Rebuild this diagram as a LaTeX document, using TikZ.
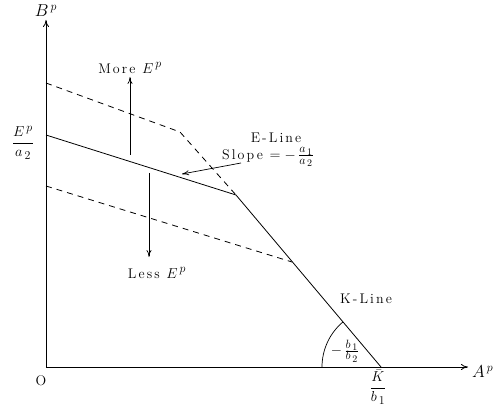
\documentclass[tikz,border=0pt]{standalone}
\usepackage{fontspec}
\setmainfont{Latin Modern Roman}
\newfontfamily\spaced{Latin Modern Roman}[LetterSpace=15]
\DeclareMathSizes{14}{15}{12}{10}
\DeclareMathSizes{18}{18}{13}{10}
\usetikzlibrary{arrows.meta}
\tikzset{
  lbl/.style={inner sep=0pt, font=\fontsize{14}{16}\selectfont\spaced},
  axlbl/.style={inner sep=0pt, font=\fontsize{18}{21}\selectfont},
  fraclbl/.style={inner sep=0pt, font=\fontsize{14}{16}\selectfont},
  axis/.style={line width=0.8pt, -{To[length=7pt,width=6pt]}},
  thin arrow/.style={line width=0.7pt, -{To[length=7pt,width=5pt]}},
  eline/.style={line width=0.8pt},
  dline/.style={line width=0.8pt, dash pattern=on 6pt off 5pt},
}
\begin{document}
\begin{tikzpicture}[x=1pt,y=-1pt]
\useasboundingbox (0,0) rectangle (495,414);
% key points
\coordinate (O) at (46,367);
\coordinate (Ytop) at (46,20);
\coordinate (Xend) at (468,367);
\coordinate (E0) at (46,135);
\coordinate (kink) at (236,195);
\coordinate (K0) at (381,367);
\coordinate (U0) at (46,83);
\coordinate (U1) at (180,132);
\coordinate (L0) at (46,186);
\coordinate (L1) at (292,262);
% axes
\draw[axis] (O) -- (Ytop);
\draw[axis] (O) -- (Xend);
% lines
\draw[eline] (E0) -- (kink) -- (K0);
\draw[dline] (U0) -- (U1) -- (kink);
\draw[dline] (L0) -- (L1);
% arc
\draw[line width=0.7pt] (322,367) arc[start angle=180, end angle=229.9, radius=59];
% arrows
\coordinate (mA) at (130,155);
\coordinate (mB) at (130,77);
\coordinate (lA) at (149,173);
\coordinate (lB) at (149,257);
\coordinate (sA) at (241,163);
\coordinate (sB) at (182,174);
\draw[thin arrow] (mA) -- (mB);
\draw[thin arrow] (lA) -- (lB);
\draw[thin arrow] (sA) -- (sB);
% labels
\node[axlbl] (By) at (46,11) {$B^{\,p}$};
\node[axlbl, anchor=west] (Ax) at (472,372) {$A^{\,p}$};
\node[lbl] (Olbl) at (41,381) {O};
\node[fraclbl] (Ea) at (23,143) {$\displaystyle\frac{E^{\,p}}{a_{\,2}}$};
\node[fraclbl] (Kb) at (378,387) {$\displaystyle\frac{\bar K}{b_{\,1}}$};
\node[lbl] (more) at (130,68) {More $E^{\,p}$};
\node[lbl] (less) at (157,273) {Less $E^{\,p}$};
\node[lbl] (el) at (276,138) {E-Line};
\node[lbl] (sl) at (268,157) {Slope $=-\,\frac{a_{\,1}}{a_{\,2}}$};
\node[lbl] (kl) at (366,299) {K-Line};
\node[lbl] (bb) at (345,351) {$-\,\frac{b_{\,1}}{b_{\,2}}$};
\end{tikzpicture}
\end{document}
